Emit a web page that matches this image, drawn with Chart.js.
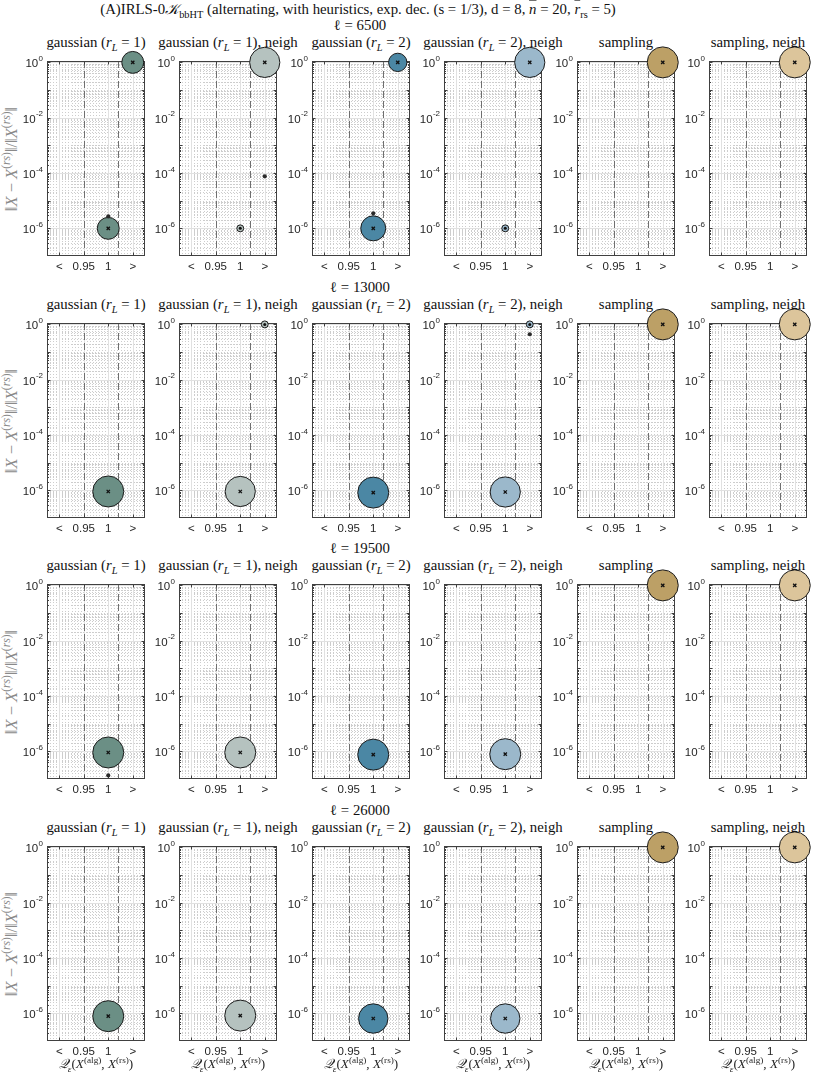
<!DOCTYPE html>
<html>
<head>
<meta charset="utf-8">
<script src="https://cdn.jsdelivr.net/npm/chart.js@4.4.0/dist/chart.umd.min.js"></script>
<style>
  body { margin: 0; background: #fff; }
  #fig { position: relative; width: 814px; height: 1074px; overflow: hidden;
         font-family: 'Liberation Serif', serif; color: #111; }
  .t { position: absolute; white-space: nowrap; transform: translate(-50%, -50%); line-height: 1; }
  .t sub, .t sup { font-size: 70%; line-height: 0; }
  canvas { position: absolute; }
</style>
</head>
<body>
<div id="fig"></div>
<script>
// ---- data ----
const lengths = [6500, 13000, 19500, 26000];
const xTickLabels = ['<', '0.95', '1', '>'];
const yTickExps = [0, -2, -4, -6];
const refLines = [2, 3.4];          // dashed vertical lines (x category units)
const nRuns = 20;

const panelTitles = [
  'gaussian (<i>r<sub>L</sub></i> = 1)',
  'gaussian (<i>r<sub>L</sub></i> = 1), neigh',
  'gaussian (<i>r<sub>L</sub></i> = 2)',
  'gaussian (<i>r<sub>L</sub></i> = 2), neigh',
  'sampling',
  'sampling, neigh'
];
const panelColors = ['#6b8f85', '#b5c2bf', '#4b87a4', '#9bb8cb', '#bca066', '#dcc59b'];

// bubbles per panel: [x category (1..4), relative error, runs]
const bubbles6500 = [
  [[4, 1, 10], [3, 1e-6, 10]],
  [[4, 1, 19], [3, 1e-6, 1]],
  [[4, 1, 7], [3, 1e-6, 13]],
  [[4, 1, 19], [3, 1e-6, 1]],
  [[4, 1, 20]],
  [[4, 1, 20]]
];
const bubbles13000 = [
  [[3, 9.1e-7, 20]],
  [[3, 9.1e-7, 19], [4, 1, 1]],
  [[3, 8.3e-7, 20]],
  [[3, 8.7e-7, 19], [4, 1, 1]],
  [[4, 1, 20]],
  [[4, 1, 20]]
];
const bubbles19500 = [
  [[3, 9.1e-7, 20]],
  [[3, 9.1e-7, 20]],
  [[3, 7.6e-7, 20]],
  [[3, 7.9e-7, 20]],
  [[4, 1, 20]],
  [[4, 1, 20]]
];
const bubbles26000 = [
  [[3, 7.9e-7, 20]],
  [[3, 8.3e-7, 20]],
  [[3, 6.5e-7, 18]],
  [[3, 6.5e-7, 18]],
  [[4, 1, 20]],
  [[4, 1, 20]]
];
// single runs drawn as small dots: [x category, relative error]
const outliers6500 = [[[3, 2.7e-6]], [[4, 7.6e-5]], [[3, 3.5e-6]], [], [], []];
const outliers13000 = [[], [], [], [[4, 0.44]], [], []];
const outliers19500 = [[[3, 1.35e-7]], [], [], [], [], []];
const outliers26000 = [[], [], [], [], [], []];

const bubbleRows = [bubbles6500, bubbles13000, bubbles19500, bubbles26000];
const outlierRows = [outliers6500, outliers13000, outliers19500, outliers26000];

// ---- layout ----
const fig = document.getElementById('fig');
const PW = 98, PH = 195;
const padL = 40, padT = 20, padR = 20, axisH = 22;

function addText(html, cx, cy, size, extra) {
  const d = document.createElement('div');
  d.className = 't';
  d.innerHTML = html;
  d.style.left = cx + 'px';
  d.style.top = cy + 'px';
  d.style.fontSize = size + 'px';
  if (extra) Object.assign(d.style, extra);
  fig.appendChild(d);
  return d;
}

const gridPlugin = {
  id: 'gridPlugin',
  beforeDatasetsDraw(chart) {
    const { ctx, chartArea: a, scales: { x, y } } = chart;
    const px = v => Math.round(x.getPixelForValue(v)) + 0.5;
    const py = v => Math.round(y.getPixelForValue(v)) + 0.5;
    const vline = p => { ctx.beginPath(); ctx.moveTo(p, a.top); ctx.lineTo(p, a.bottom); ctx.stroke(); };
    const hline = p => { ctx.beginPath(); ctx.moveTo(a.left, p); ctx.lineTo(a.right, p); ctx.stroke(); };
    ctx.save();
    ctx.fillStyle = '#fff';
    ctx.fillRect(a.left, a.top, a.right - a.left, a.bottom - a.top);
    ctx.lineWidth = 1;

    // minor grid (dotted)
    ctx.strokeStyle = '#cdcdcd';
    ctx.setLineDash([1, 2]);
    for (let i = 1; i < 32; i++) {
      const v = 0.5 + i / 8;
      if (v % 1 !== 0) vline(px(v));
    }
    for (let k = -7; k <= 0; k++) {
      for (let m = 1; m <= 9; m++) {
        const v = m * Math.pow(10, k);
        if (m === 1 && (k % 2 === 0 || k === -7)) continue;
        if (v < y.max && v > y.min) hline(py(v));
      }
    }
    // major grid
    ctx.setLineDash([]);
    ctx.strokeStyle = '#e1e1e1';
    xTickLabels.forEach((_, i) => vline(px(i + 1)));
    yTickExps.forEach(e => hline(py(Math.pow(10, e))));
    // dashed reference lines
    ctx.strokeStyle = '#6f6f6f';
    ctx.setLineDash([7, 3]);
    refLines.forEach(v => vline(px(v)));
    ctx.setLineDash([]);

    // frame and inward ticks
    ctx.strokeStyle = '#404040';
    const L = Math.round(a.left) + 0.5, R = Math.round(a.right) - 0.5;
    const T = Math.round(a.top) + 0.5, B = Math.round(a.bottom) - 0.5;
    ctx.strokeRect(L, T, R - L, B - T);
    ctx.beginPath();
    xTickLabels.forEach((_, i) => {
      const p = px(i + 1);
      ctx.moveTo(p, B); ctx.lineTo(p, B - 3);
      ctx.moveTo(p, T); ctx.lineTo(p, T + 3);
    });
    for (let k = -7; k <= 0; k++) {
      for (let m = 1; m <= 9; m++) {
        const v = m * Math.pow(10, k);
        if (v >= y.max || v <= y.min) continue;
        const p = py(v);
        const len = m === 1 ? 3 : 1.5;
        ctx.moveTo(L, p); ctx.lineTo(L + len, p);
        ctx.moveTo(R, p); ctx.lineTo(R - len, p);
      }
    }
    ctx.stroke();

    // y tick labels 10^k
    ctx.fillStyle = '#262626';
    ctx.textBaseline = 'alphabetic';
    yTickExps.forEach(e => {
      const p = y.getPixelForValue(Math.pow(10, e));
      const expText = String(e);
      ctx.font = '8px "Liberation Sans", sans-serif';
      const ew = ctx.measureText(expText).width;
      ctx.textAlign = 'left';
      const ex = a.left - 4 - ew;
      ctx.fillText(expText, ex, p - 1.5);
      ctx.font = '11.5px "Liberation Sans", sans-serif';
      ctx.textAlign = 'right';
      ctx.fillText('10', ex - 0.3, p + 5);
    });
    ctx.restore();
  }
};

function radiusFor(n) {
  return 15.5 * Math.sqrt(n / nRuns);
}

function makePanel(row, col) {
  const left = Math.round(47 + col * 132.45);
  const top = Math.round(61 + row * 261.5);
  const cv = document.createElement('canvas');
  cv.width = padL + PW + padR;
  cv.height = padT + PH + axisH;
  cv.style.left = (left - padL) + 'px';
  cv.style.top = (top - padT) + 'px';
  fig.appendChild(cv);

  const bubbles = bubbleRows[row][col];
  const dots = outlierRows[row][col];
  const color = panelColors[col];

  new Chart(cv, {
    type: 'bubble',
    data: {
      datasets: [
        {
          type: 'scatter',
          data: dots.map(d => ({ x: d[0], y: d[1] })),
          pointRadius: 2.1,
          pointBackgroundColor: '#2a2a2a',
          pointBorderWidth: 0,
          clip: false,
          order: 0
        },
        {
          type: 'scatter',
          data: bubbles.filter(b => b[2] > 1).map(b => ({ x: b[0], y: b[1] })),
          pointStyle: 'crossRot',
          pointRadius: 2.3,
          pointBorderColor: '#111',
          pointBorderWidth: 1.3,
          clip: false,
          order: 1
        },
        {
          type: 'scatter',
          data: bubbles.filter(b => b[2] <= 1).map(b => ({ x: b[0], y: b[1] })),
          pointRadius: 1.5,
          pointBackgroundColor: '#111',
          pointBorderWidth: 0,
          clip: false,
          order: 1
        },
        {
          data: bubbles.map(b => ({ x: b[0], y: b[1], r: radiusFor(b[2]) })),
          backgroundColor: color,
          borderColor: '#1c1c1c',
          borderWidth: 1,
          clip: false,
          order: 2
        }
      ]
    },
    options: {
      responsive: false,
      animation: false,
      devicePixelRatio: 1,
      events: [],
      layout: { padding: { left: padL, top: padT, right: padR, bottom: 0 } },
      plugins: { legend: { display: false }, tooltip: { enabled: false } },
      scales: {
        x: {
          type: 'linear',
          min: 0.5,
          max: 4.5,
          afterBuildTicks: s => { s.ticks = xTickLabels.map((_, i) => ({ value: i + 1 })); },
          afterFit: s => { s.height = axisH; },
          grid: { display: false, drawTicks: false },
          border: { display: false },
          ticks: {
            autoSkip: false,
            maxRotation: 0,
            padding: 4,
            color: '#262626',
            font: { family: '"Liberation Sans", sans-serif', size: 11.5 },
            callback: (v, i) => xTickLabels[i]
          }
        },
        y: {
          type: 'logarithmic',
          min: 1e-7,
          max: Math.pow(10, 0.05),
          display: false
        }
      }
    },
    plugins: [gridPlugin]
  });
  return { left, top };
}

// ---- titles ----
addText('(A)IRLS-0<span style="font-family:\'DejaVu Serif\',serif;font-style:italic">𝒦</span><sub>bbHT</sub> (alternating, with heuristics, exp. dec. (s = 1/3), d = 8, <i style="text-decoration:overline">n</i> = 20, <i style="text-decoration:overline">r</i><sub>rs</sub> = 5)', 358, 9, 14.8);

lengths.forEach((len, row) => {
  const top = Math.round(61 + row * 261.5);
  addText('ℓ = ' + len, 360, top - 36.5, 14.8);
  panelTitles.forEach((title, col) => {
    const left = Math.round(47 + col * 132.45);
    addText(title, left + PW / 2, top - 19, 14.8);
  });
  addText('‖<i>X</i> − <i>X</i><sup>(<i>rs</i>)</sup>‖/‖<i>X</i><sup>(<i>rs</i>)</sup>‖',
    12, top + PH / 2, 16.5, { transform: 'translate(-50%, -50%) rotate(-90deg)', color: '#8a8a8a' });
});

// panels
lengths.forEach((_, row) => {
  panelTitles.forEach((_, col) => makePanel(row, col));
});

// x labels on bottom row
panelTitles.forEach((_, col) => {
  const left = Math.round(47 + col * 132.45);
  const top = Math.round(61 + 3 * 261.5);
  addText('<i>𝒬</i><sub><i>ε</i></sub>(<i>X</i><sup>(alg)</sup>, <i>X</i><sup>(rs)</sup>)',
    left + PW / 2, top + PH + 22.5, 13.2, { color: '#262626' });
});
</script>
</body>
</html>
